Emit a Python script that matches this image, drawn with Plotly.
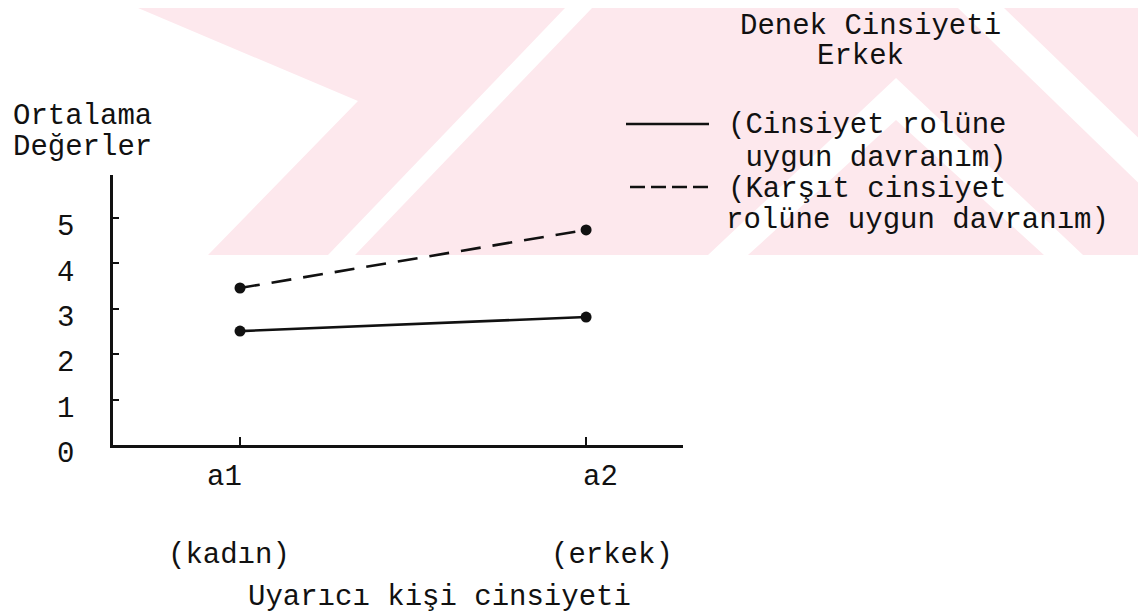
import plotly.graph_objects as go

# ---- data ----
categories = ["a1", "a2"]
category_notes = ["(kadın)", "(erkek)"]
x_pos = [1, 2]
uygun = [2.51, 2.82]          # (Cinsiyet rolüne uygun davranım) - solid
karsit = [3.46, 4.74]         # (Karşıt cinsiyet rolüne uygun davranım) - dashed
y_ticks = [0, 1, 2, 3, 4, 5]
y_ticktext = ["0", "1", "2", "3", "4", "5"]
legend_title = ["Denek Cinsiyeti", "Erkek"]
legend_solid = ["(Cinsiyet rolüne", " uygun davranım)"]
legend_dash = ["(Karşıt cinsiyet", "rolüne uygun davranım)"]
y_title = ["Ortalama", "Değerler"]
x_title = "Uyarıcı kişi cinsiyeti"

W, H = 1146, 612
L, R, T, B = 105, 675, 167, 437   # plot area in pixels
FONT = "Liberation Mono, Courier New, monospace"
FS = 29
INK = "#111111"
PINK = "#fde8ed"


def px(xp):
    return (xp - L) / (R - L)


def py(yp):
    return (B - yp) / (B - T)


def path(points):
    return "M " + " L ".join(f"{px(a):.4f},{py(b):.4f}" for a, b in points) + " Z"


fig = go.Figure()
fig.add_trace(go.Scatter(
    x=x_pos, y=uygun, mode="lines+markers",
    line=dict(color=INK, width=2.6),
    marker=dict(color=INK, size=11, symbol="circle"),
    showlegend=False, hoverinfo="skip"))
fig.add_trace(go.Scatter(
    x=x_pos, y=karsit, mode="lines+markers",
    line=dict(color=INK, width=2.6, dash="20px,12px"),
    marker=dict(color=INK, size=11, symbol="circle"),
    showlegend=False, hoverinfo="skip"))

ann = []


def text(s, xp, yp, anchor="left"):
    ann.append(dict(text=s, x=px(xp), y=py(yp), xref="paper", yref="paper",
                    xanchor=anchor, yanchor="middle", showarrow=False,
                    font=dict(family=FONT, size=FS, color=INK)))


# y-axis title
text(y_title[0], 3, 108)
text(y_title[1], 3, 140)
# legend title
text(legend_title[0], 862, 18, "center")
text(legend_title[1], 852, 49, "center")
# legend entries
text(legend_solid[0], 718, 117)
text(legend_solid[1], 718, 150)
text(legend_dash[0], 718, 181)
text(legend_dash[1], 716, 212)
# x category labels and notes (offsets relative to the tick, in pixels)
lab_shift = [-16, 14]
note_shift = [-11, 26]
for xv, lab, note, s1, s2 in zip(x_pos, categories, category_notes, lab_shift, note_shift):
    ann.append(dict(text=lab, x=xv, y=py(469), xref="x", yref="paper",
                    xanchor="center", yanchor="middle", xshift=s1, showarrow=False,
                    font=dict(family=FONT, size=FS, color=INK)))
    ann.append(dict(text=note, x=xv, y=py(547), xref="x", yref="paper",
                    xanchor="center", yanchor="middle", xshift=s2, showarrow=False,
                    font=dict(family=FONT, size=FS, color=INK)))
# x-axis title
text(x_title, 431, 589, "center")

# faint background watermark (pink band with white diagonal strokes)
wm = [
    (PINK, [(130, 0), (1146, 0), (1146, 247), (200, 247), (350, 93)]),
    ("white", [(320, 247), (347, 247), (584, 0), (557, 0)]),
    ("white", [(700, 247), (888, 70), (1075, 247), (1036, 247), (888, 112), (740, 247)]),
    ("white", [(950, 0), (996, 0), (1146, 145), (1146, 190)]),
]
shapes = [dict(type="path", xref="paper", yref="paper", path=path(pts),
               fillcolor=col, line=dict(width=0), layer="below") for col, pts in wm]

shapes += [
    dict(type="line", xref="paper", yref="paper", x0=px(618), x1=px(701),
         y0=py(116), y1=py(116), line=dict(color=INK, width=2.5)),
    dict(type="line", xref="paper", yref="paper", x0=px(622), x1=px(701),
         y0=py(179), y1=py(179), line=dict(color=INK, width=2.5, dash="15px,6px")),
]

fig.update_layout(
    width=W, height=H,
    margin=dict(l=L, r=W - R, t=T, b=H - B, pad=0),
    paper_bgcolor="white", plot_bgcolor="rgba(0,0,0,0)",
    annotations=ann, shapes=shapes,
    font=dict(family=FONT, size=FS, color=INK),
    xaxis=dict(range=[0.633, 2.28], tickvals=x_pos, ticktext=["", ""],
               showline=True, linecolor=INK, linewidth=2.5, ticks="inside",
               ticklen=8, tickwidth=1.5, tickcolor=INK, showgrid=False,
               zeroline=False, fixedrange=True),
    yaxis=dict(range=[0, 5.95], tickvals=y_ticks, ticktext=y_ticktext,
               showline=True, linecolor=INK, linewidth=2.5, ticks="inside",
               ticklen=6, tickwidth=1.5, tickcolor=INK, showgrid=False,
               zeroline=False, ticklabelstandoff=30, ticklabelshift=7,
               tickfont=dict(family=FONT, size=FS, color=INK), fixedrange=True),
)

fig.write_html("out.html")
